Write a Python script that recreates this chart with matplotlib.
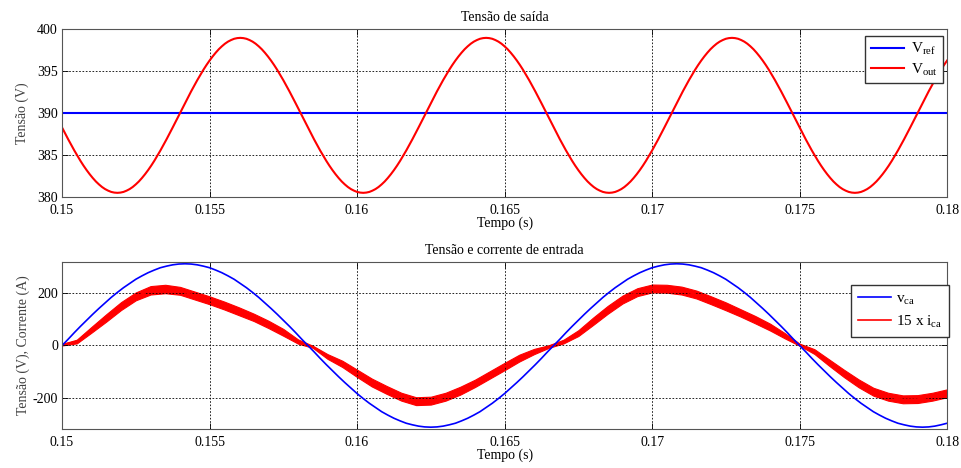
import numpy as np
import matplotlib
matplotlib.use("Agg")
import matplotlib.pyplot as plt

plt.rcParams['font.family'] = ['Liberation Serif', 'DejaVu Serif']
plt.rcParams['mathtext.default'] = 'regular'
plt.rcParams['axes.unicode_minus'] = False
plt.rcParams['font.size'] = 10

# --- Output voltage (top), every ~0.1 ms ---
v_ref = 390.0
v_out = [
    388.30, 387.59, 386.89, 386.21, 385.55, 384.92, 384.31, 383.74, 383.21, 382.72,
    382.27, 381.86, 381.51, 381.20, 380.95, 380.76, 380.61, 380.53, 380.50,
    # rise
    380.53, 380.61, 380.76, 380.95, 381.20, 381.51, 381.86, 382.27, 382.72, 383.21,
    383.74, 384.31, 384.92, 385.55, 386.21, 386.89, 387.59, 388.30, 389.02, 389.75,
    390.48, 391.20, 391.91, 392.61, 393.29, 393.95, 394.58, 395.19, 395.76, 396.29,
    396.78, 397.23, 397.64, 397.99, 398.30, 398.55, 398.74, 398.89, 398.97, 399.00,
    # fall
    398.97, 398.89, 398.74, 398.55, 398.30, 397.99, 397.64, 397.23, 396.78, 396.29,
    395.76, 395.19, 394.58, 393.95, 393.29, 392.61, 391.91, 391.20, 390.48, 389.75,
    389.02, 388.30, 387.59, 386.89, 386.21, 385.55, 384.92, 384.31, 383.74, 383.21,
    382.72, 382.27, 381.86, 381.51, 381.20, 380.95, 380.76, 380.61, 380.53, 380.50,
    # rise
    380.53, 380.61, 380.76, 380.95, 381.20, 381.51, 381.86, 382.27, 382.72, 383.21,
    383.74, 384.31, 384.92, 385.55, 386.21, 386.89, 387.59, 388.30, 389.02, 389.75,
    390.48, 391.20, 391.91, 392.61, 393.29, 393.95, 394.58, 395.19, 395.76, 396.29,
    396.78, 397.23, 397.64, 397.99, 398.30, 398.55, 398.74, 398.89, 398.97, 399.00,
    # fall
    398.97, 398.89, 398.74, 398.55, 398.30, 397.99, 397.64, 397.23, 396.78, 396.29,
    395.76, 395.19, 394.58, 393.95, 393.29, 392.61, 391.91, 391.20, 390.48, 389.75,
    389.02, 388.30, 387.59, 386.89, 386.21, 385.55, 384.92, 384.31, 383.74, 383.21,
    382.72, 382.27, 381.86, 381.51, 381.20, 380.95, 380.76, 380.61, 380.53, 380.50,
    # rise
    380.53, 380.61, 380.76, 380.95, 381.20, 381.51, 381.86, 382.27, 382.72, 383.21,
    383.74, 384.31, 384.92, 385.55, 386.21, 386.89, 387.59, 388.30, 389.02, 389.75,
    390.48, 391.20, 391.91, 392.61, 393.29, 393.95, 394.58, 395.19, 395.76, 396.29,
    396.78, 397.23, 397.64, 397.99, 398.30, 398.55, 398.74, 398.89, 398.97, 399.00,
    # fall
    398.97, 398.89, 398.74, 398.55, 398.30, 397.99, 397.64, 397.23, 396.78, 396.29,
    395.76, 395.19, 394.58, 393.95, 393.29, 392.61, 391.91, 391.20, 390.48, 389.75,
    389.02, 388.30, 387.59, 386.89, 386.21, 385.55, 384.92, 384.31, 383.74, 383.21,
    382.72, 382.27, 381.86, 381.51, 381.20, 380.95, 380.76, 380.61, 380.53, 380.50,
    # rise (to end)
    380.53, 380.61, 380.76, 380.95, 381.20, 381.51, 381.86, 382.27, 382.72, 383.21,
    383.74, 384.31, 384.92, 385.55, 386.21, 386.89, 387.59, 388.30, 389.02, 389.75,
    390.48, 391.20, 391.91, 392.61, 393.29, 393.95, 394.58, 395.19, 395.76, 396.29,
]
t_out = np.linspace(0.15, 0.18, len(v_out))

# --- Input voltage (bottom) ---
v_ca = [
    0, 24, 49, 73, 96, 119, 141, 162, 183, 202, 220, 236, 252, 265, 277, 287, 296, 302, 307, 310,
    311, 310, 307, 302, 296, 287, 277, 265, 252, 236, 220, 202, 183, 162, 141, 119, 96, 73, 49, 24,
    0, -24, -49, -73, -96, -119, -141, -162, -183, -202, -220, -236, -252, -265, -277, -287, -296, -302, -307, -310,
    -311, -310, -307, -302, -296, -287, -277, -265, -252, -236, -220, -202, -183, -162, -141, -119, -96, -73, -49, -24,
    0, 24, 49, 73, 96, 119, 141, 162, 183, 202, 220, 236, 252, 265, 277, 287, 296, 302, 307, 310,
    311, 310, 307, 302, 296, 287, 277, 265, 252, 236, 220, 202, 183, 162, 141, 119, 96, 73, 49, 24,
    0, -24, -49, -73, -96, -119, -141, -162, -183, -202, -220, -236, -252, -265, -277, -287, -296, -302, -307, -310,
    -311, -310, -307, -302, -296,
]
t_ca = np.linspace(0.15, 0.18, len(v_ca))

# --- Input current x15 (bottom): mean and half width of the ripple band ---
i_ca15 = [
    3, 15, 60, 105, 150, 187, 210, 215, 208, 190,
    172, 152, 130, 107, 80, 50, 15, -5, -42, -70,
    -106, -141, -169, -195, -212, -210, -195, -172, -144, -112,
    -80, -48, -23, -4, 15, 47, 92, 136, 175, 203,
    217, 216, 209, 194, 172, 149, 124, 98, 70, 37,
    3, -23, -65, -106, -144, -176, -195, -205, -204, -195,
    -182,
]
i_band = [
    3, 7, 11, 14, 15, 15, 16, 16, 15, 15,
    15, 15, 15, 14, 14, 13, 8, 4, 9, 12,
    14, 15, 15, 15, 15, 15, 15, 15, 14, 14,
    14, 13, 10, 5, 7, 11, 14, 15, 15, 15,
    15, 15, 15, 15, 15, 15, 14, 14, 13, 10,
    4, 9, 12, 14, 15, 15, 15, 15, 15, 15,
    15,
]
t_i = np.linspace(0.15, 0.18, len(i_ca15))

xticks = [0.15, 0.155, 0.16, 0.165, 0.17, 0.175, 0.18]
xtick_labels = ['0.15', '0.155', '0.16', '0.165', '0.17', '0.175', '0.18']

fig = plt.figure(figsize=(9.62, 4.68), dpi=100)
ax1 = fig.add_axes([0.0645, 0.579, 0.920, 0.358])
ax2 = fig.add_axes([0.0645, 0.0833, 0.920, 0.357])

grid_kw = dict(color='black', linestyle=(0, (2, 2)), linewidth=0.6)

# top
ax1.plot([0.15, 0.18], [v_ref, v_ref], color='#0000ff', linewidth=1.5, label=r'V$_{ref}$')
ax1.plot(t_out, v_out, color='#ff0000', linewidth=1.5, label=r'V$_{out}$')
ax1.set_xlim(0.15, 0.18)
ax1.set_ylim(380, 400)
ax1.set_yticks([380, 385, 390, 395, 400])
ax1.set_title('Tensão de saída', fontsize=10, pad=6)
ax1.set_xlabel('Tempo (s)', labelpad=0)
ax1.set_ylabel('Tensão (V)', color='#404040', labelpad=6)
ax1.legend(loc='upper right', bbox_to_anchor=(0.995, 0.963), borderaxespad=0,
           fancybox=False, edgecolor='#333333', framealpha=1, fontsize=11,
           handlelength=2.2, handletextpad=0.4, borderpad=0.35, labelspacing=0.3)

# bottom
lo = np.array(i_ca15) - np.array(i_band)
hi = np.array(i_ca15) + np.array(i_band)
ax2.fill_between(t_i, lo, hi, color='#ff0000', linewidth=0.8, edgecolor='#ff0000')
ax2.plot(t_i, i_ca15, color='#ff0000', linewidth=1.2, label=r'15 x i$_{ca}$')
ax2.plot(t_ca, v_ca, color='#0000ff', linewidth=1.2, label=r'v$_{ca}$')
ax2.set_xlim(0.15, 0.18)
ax2.set_ylim(-318, 318)
ax2.set_yticks([-200, 0, 200])
ax2.set_title('Tensão e corrente de entrada', fontsize=10, pad=6)
ax2.set_xlabel('Tempo (s)', labelpad=0)
ax2.set_ylabel('Tensão (V), Corrente (A)', color='#404040', labelpad=2)
h, l = ax2.get_legend_handles_labels()
ax2.legend([h[1], h[0]], [l[1], l[0]], loc='upper right', bbox_to_anchor=(1.002, 0.862),
           borderaxespad=0, fancybox=False, edgecolor='#333333', framealpha=1,
           fontsize=11, handlelength=2.2, handletextpad=0.3, borderpad=0.45,
           labelspacing=0.45)

for ax in (ax1, ax2):
    ax.set_xticks(xticks)
    ax.set_xticklabels(xtick_labels)
    ax.grid(True, **grid_kw)
    ax.tick_params(direction='in', length=4, width=0.6, pad=3, labelsize=10,
                   top=True, right=True)
    ax.tick_params(axis='x', pad=5)
    for s in ax.spines.values():
        s.set_color('#555555')
        s.set_linewidth(0.8)

fig.savefig('out.png', dpi=100)
